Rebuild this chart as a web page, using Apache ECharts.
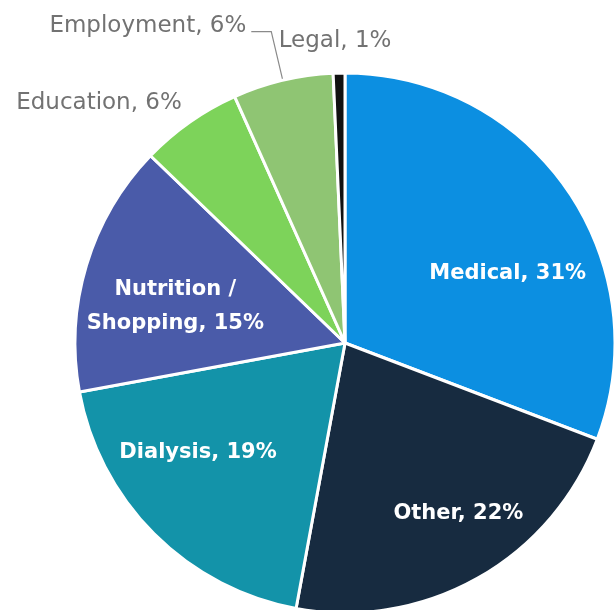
<!DOCTYPE html>
<html>
<head>
<meta charset="utf-8">
<script src="https://cdn.jsdelivr.net/npm/echarts@6/dist/echarts.min.js"></script>
<style>
html,body{margin:0;padding:0;background:#fff;}
#chart{width:616px;height:610px;}
</style>
</head>
<body>
<div id="chart"></div>
<script>
// ---- data ----
var categories = ['Medical', 'Other', 'Dialysis', 'Nutrition / Shopping', 'Education', 'Employment', 'Legal'];
var shares = [30.8, 22.1, 19.2, 15.1, 6.1, 6.0, 0.7];
var colors = ['#0C8FE1', '#172B40', '#1393A9', '#4A5BA9', '#7DD35A', '#8FC573', '#111111'];
var insideLabels = ['Medical', 'Other', 'Dialysis', 'Nutrition / Shopping'];

// ---- styling/layout (not data) ----
var insideOffsets = { 'Medical': [9, 36], 'Other': [22, 8], 'Dialysis': [-15, -22], 'Nutrition / Shopping': [9, 17] };
var outsideLine = { 'Education': [26, 0, false], 'Employment': [50, 20, true], 'Legal': [26, 0, false] };

function fmt(p) {
  return p.name.replace(' / ', ' /\n') + ', ' + Math.round(p.percent) + '%';
}

var CENTER = [345, 343];
var R = 270;

var mainData = categories.map(function (c, i) {
  var isIn = insideLabels.indexOf(c) >= 0;
  var item = { name: c, value: shares[i], itemStyle: { color: colors[i] } };
  if (isIn) {
    item.label = { show: false };
    item.labelLine = { show: false };
  } else {
    var ol = outsideLine[c];
    item.label = { show: true };
    item.labelLine = { show: ol[2], length: ol[0], length2: ol[1] };
  }
  return item;
});

var ringData = categories.map(function (c, i) {
  var isIn = insideLabels.indexOf(c) >= 0;
  return { name: c, value: shares[i], label: { show: isIn } };
});

var chart = echarts.init(document.getElementById('chart'), null, { renderer: 'canvas' });
chart.setOption({
  backgroundColor: '#ffffff',
  animation: false,
  series: [
    {
      type: 'pie',
      center: CENTER,
      radius: [0, R],
      startAngle: 90,
      clockwise: true,
      avoidLabelOverlap: false,
      itemStyle: { borderColor: '#ffffff', borderWidth: 3 },
      label: {
        position: 'outside',
        formatter: fmt,
        fontFamily: 'DejaVu Sans',
        fontSize: 23,
        color: '#727272',
        distanceToLabelLine: 5
      },
      labelLine: { lineStyle: { color: '#8a8a8a', width: 1.2 }, smooth: false },
      labelLayout: function (p) {
        var n = categories[p.dataIndex];
        if (n === 'Legal') {
          return { x: p.rect.x + p.rect.width / 2 - 4, y: p.rect.y - 30, align: 'center', verticalAlign: 'middle' };
        }
        if (n === 'Education') {
          return { dx: 12, dy: 2 };
        }
        if (n === 'Employment') {
          return { dy: -6 };
        }
        return {};
      },
      emphasis: { disabled: true },
      data: mainData,
      z: 1
    },
    {
      type: 'pie',
      center: CENTER,
      radius: [R * 0.36, R],
      startAngle: 90,
      clockwise: true,
      silent: true,
      avoidLabelOverlap: false,
      itemStyle: { color: 'rgba(0,0,0,0)', borderWidth: 0 },
      label: {
        position: 'inside',
        formatter: fmt,
        fontFamily: 'DejaVu Sans',
        fontWeight: 'bold',
        fontSize: 21,
        lineHeight: 34,
        color: '#ffffff',
        align: 'center'
      },
      labelLine: { show: false },
      labelLayout: function (p) {
        var o = insideOffsets[categories[p.dataIndex]] || [0, 0];
        return { dx: o[0], dy: o[1] };
      },
      emphasis: { disabled: true },
      data: ringData,
      z: 2
    }
  ]
});
</script>
</body>
</html>
